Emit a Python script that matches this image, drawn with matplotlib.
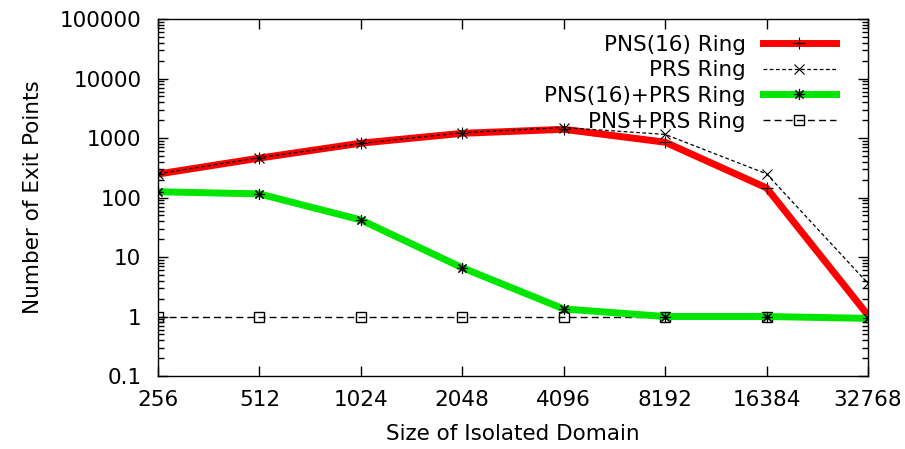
import matplotlib
matplotlib.use('Agg')
import matplotlib.pyplot as plt
from matplotlib.ticker import FixedLocator, NullLocator, FixedFormatter, LogLocator

plt.rcParams['font.family'] = ['DejaVu Sans']

sizes = [256, 512, 1024, 2048, 4096, 8192, 16384, 32768]
size_labels = ['256', '512', '1024', '2048', '4096', '8192', '16384', '32768']
pns16_ring = [248, 460, 820, 1200, 1400, 850, 145, 1.05]
prs_ring = [250, 470, 810, 1230, 1500, 1150, 250, 3.6]
pns16_prs_ring = [125, 115, 42, 6.6, 1.34, 1.0, 1.0, 0.93]
pns_prs_ring = [1, 1, 1, 1, 1, 1, 1, 1]
y_ticks = [0.1, 1, 10, 100, 1000, 10000, 100000]
y_labels = ['0.1', '1', '10', '100', '1000', '10000', '100000']

fig = plt.figure(figsize=(9.05, 4.49), dpi=100)
ax = fig.add_axes([0.1746, 0.1626, 0.7845, 0.795])

ax.plot(sizes, pns16_ring, color='#ff0000', lw=5, marker='+', ms=9,
        mec='black', mew=0.8, label='PNS(16) Ring', zorder=3)
ax.plot(sizes, prs_ring, color='black', lw=0.9, ls=(0, (3, 2)), marker='x', ms=7,
        mew=0.8, label='PRS Ring', zorder=4)
ax.plot(sizes, pns16_prs_ring, color='#00e600', lw=5, marker=(8, 2, 0), ms=8,
        mec='black', mew=0.8, label='PNS(16)+PRS Ring', zorder=3)
ax.plot(sizes, pns_prs_ring, color='black', lw=1, ls=(0, (5, 3)), marker='s', ms=7.5,
        mfc='none', mec='black', mew=1, label='PNS+PRS Ring', zorder=2)

ax.set_xscale('log', base=2)
ax.set_yscale('log')
ax.set_xlim(256, 32768)
ax.set_ylim(0.1, 100000)

ax.xaxis.set_major_locator(FixedLocator(sizes))
ax.xaxis.set_major_formatter(FixedFormatter(size_labels))
ax.xaxis.set_minor_locator(NullLocator())
ax.yaxis.set_major_locator(FixedLocator(y_ticks))
ax.yaxis.set_major_formatter(FixedFormatter(y_labels))
ax.yaxis.set_minor_locator(LogLocator(base=10, subs=range(2, 10), numticks=20))

ax.tick_params(which='both', direction='in', top=True, right=True, labelsize=15.5, width=1)
ax.tick_params(axis='y', which='major', length=7, pad=12)
ax.tick_params(axis='y', which='minor', length=4)
ax.tick_params(axis='x', which='major', length=7, pad=10)
for sp in ax.spines.values():
    sp.set_linewidth(1)

ax.set_xlabel('Size of Isolated Domain', fontsize=15.5, labelpad=10)
ax.set_ylabel('Number of Exit Points', fontsize=15.5, labelpad=12)

ax.legend(loc='upper right', bbox_to_anchor=(0.955, 0.956), frameon=False,
          markerfirst=False, fontsize=15.5, handlelength=3.4, handletextpad=0.8,
          labelspacing=0.26, borderpad=0, borderaxespad=0, numpoints=1)

fig.savefig('out.png', dpi=100)
